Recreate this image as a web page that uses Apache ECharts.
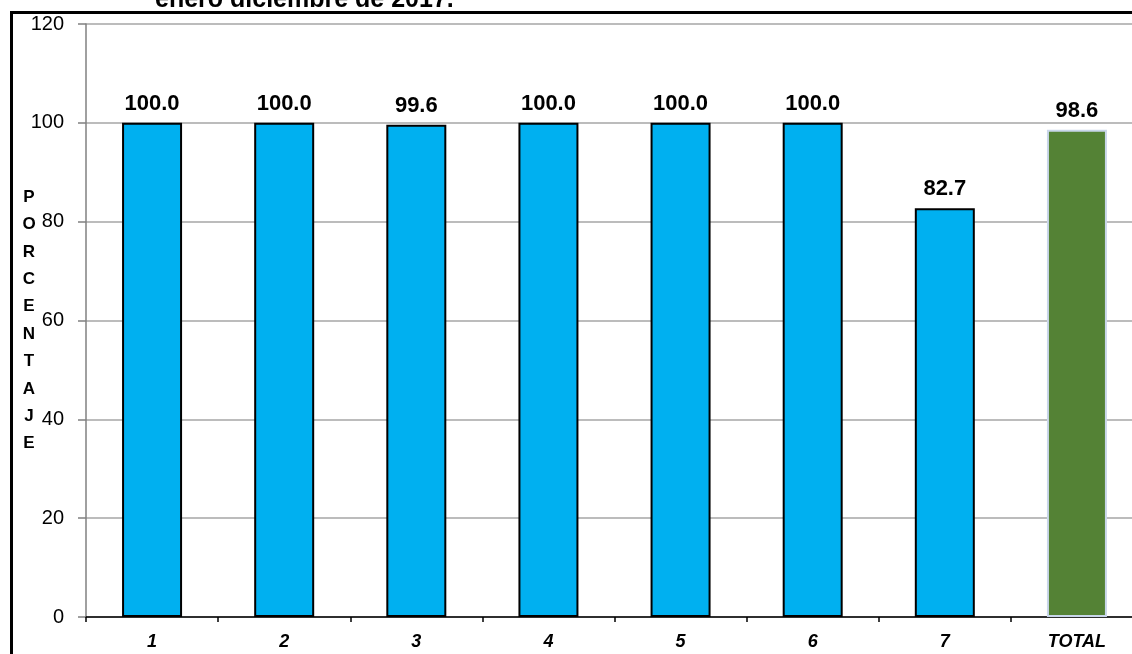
<!DOCTYPE html>
<html>
<head>
<meta charset="utf-8">
<script src="https://cdn.jsdelivr.net/npm/echarts@6/dist/echarts.min.js"></script>
<style>
  html, body { margin: 0; padding: 0; background: #fff; overflow: hidden; }
  #chart { width: 1150px; height: 654px; }
</style>
</head>
<body>
<div id="chart"></div>
<script>
  // categories and values
  let categories = ['1', '2', '3', '4', '5', '6', '7', 'TOTAL'];
  let values = [100.0, 100.0, 99.6, 100.0, 100.0, 100.0, 82.7, 98.6];
  let yTicks = [0, 20, 40, 60, 80, 100, 120];

  let chart = echarts.init(document.getElementById('chart'));

  let option = {
    backgroundColor: '#ffffff',
    animation: false,
    title: {
      text: 'enero diciembre de 2017.',
      left: 150,
      top: -17,
      textStyle: {
        fontFamily: 'Liberation Sans, Arial',
        fontWeight: 'bold',
        fontSize: 25,
        color: '#000'
      }
    },
    graphic: [{
      type: 'rect',
      left: 9,
      top: 10,
      shape: { width: 1200, height: 700 },
      style: { fill: 'none', stroke: '#000', lineWidth: 3 },
      z: 10
    }],
    grid: {
      left: 86,
      top: 24,
      right: 7,
      bottom: 37,
      containLabel: false
    },
    xAxis: {
      type: 'category',
      data: categories,
      axisLine: { lineStyle: { color: '#000', width: 1.5 } },
      axisTick: { show: true, length: 5, lineStyle: { color: '#000', width: 1.5 } },
      axisLabel: {
        fontFamily: 'Liberation Sans, Arial',
        fontWeight: 'bold',
        fontStyle: 'italic',
        fontSize: 18,
        color: '#000',
        margin: 16
      }
    },
    yAxis: {
      type: 'value',
      min: yTicks[0],
      max: yTicks[yTicks.length - 1],
      interval: 20,
      name: 'P\nO\nR\nC\nE\nN\nT\nA\nJ\nE',
      nameLocation: 'middle',
      nameRotate: 0,
      nameGap: 57,
      nameMoveOverlap: false,
      nameTextStyle: {
        fontFamily: 'Liberation Sans, Arial',
        fontWeight: 'bold',
        fontSize: 17,
        color: '#000',
        lineHeight: 27.4,
        align: 'center'
      },
      axisLine: { show: true, lineStyle: { color: '#808080', width: 1.5 } },
      axisTick: { show: true, length: 8, lineStyle: { color: '#808080', width: 1.5 } },
      axisLabel: {
        fontFamily: 'Liberation Sans, Arial',
        fontSize: 20,
        color: '#000',
        margin: 22
      },
      splitLine: { show: true, lineStyle: { color: '#a6a6a6', width: 1.5 } }
    },
    series: [{
      type: 'bar',
      barWidth: 60,
      data: values.map((v, i) => ({
        value: v,
        itemStyle: i === values.length - 1
          ? { color: '#548235', borderColor: '#c9d6ea', borderWidth: 2 }
          : { color: '#00b0f0', borderColor: '#000', borderWidth: 2 }
      })),
      label: {
        show: true,
        position: 'top',
        distance: 8,
        formatter: p => p.value.toFixed(1),
        fontFamily: 'Liberation Sans, Arial',
        fontWeight: 'bold',
        fontSize: 22,
        color: '#000'
      }
    }]
  };

  chart.setOption(option);
</script>
</body>
</html>
